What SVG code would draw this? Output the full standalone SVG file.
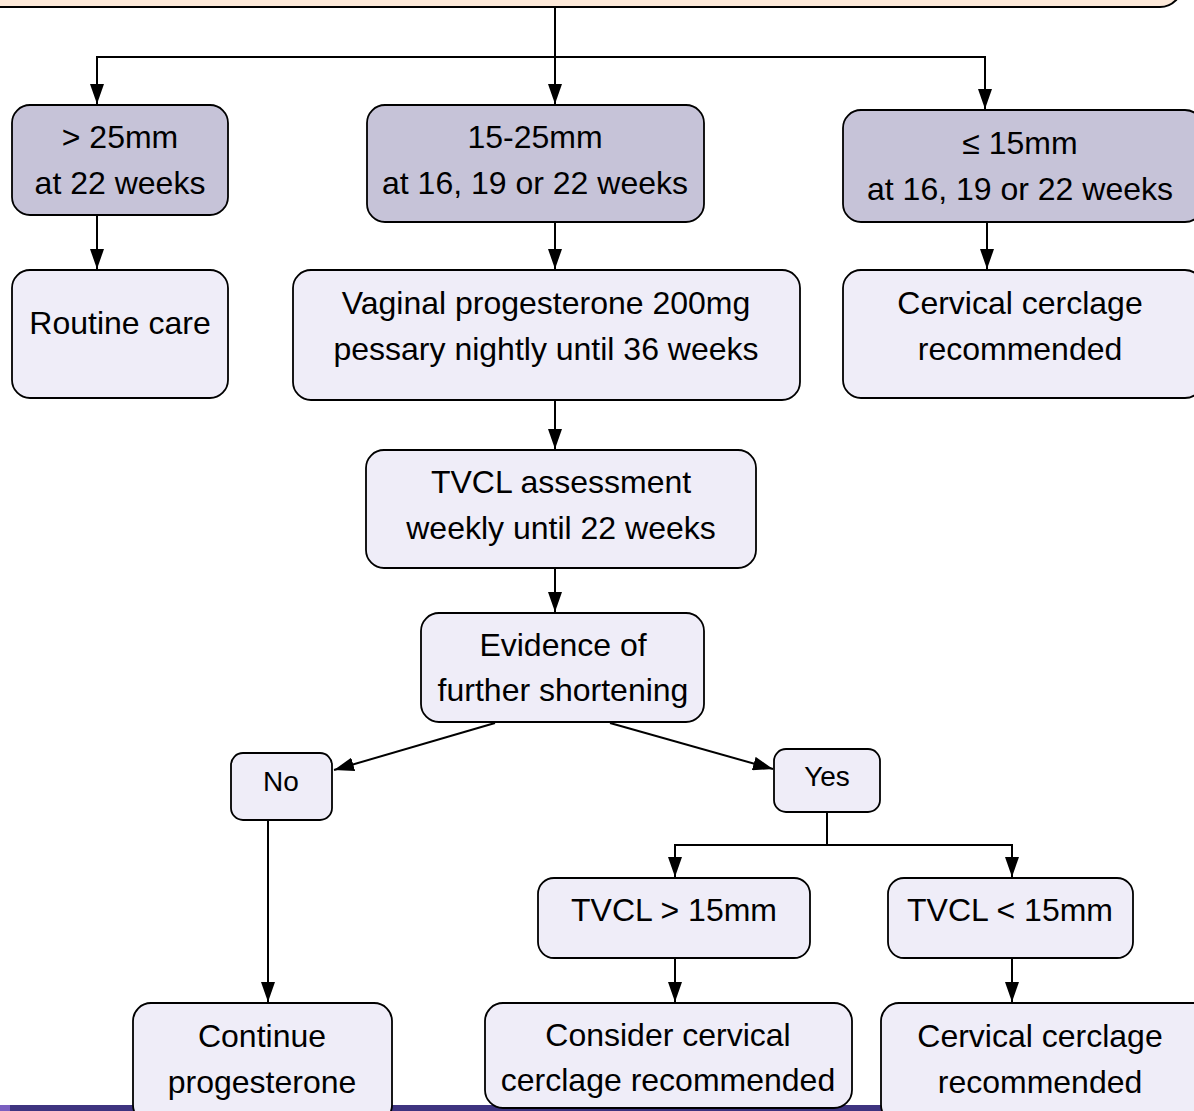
<svg xmlns="http://www.w3.org/2000/svg" width="1194" height="1111" viewBox="0 0 1194 1111">
<style>
.hdr{fill:#C6C3D8;stroke:#000;stroke-width:1.8}
.box{fill:#EFEDF8;stroke:#000;stroke-width:1.8}
.top{fill:#FDE9D9;stroke:#000;stroke-width:2}
text{font-family:"Liberation Sans",Arial,sans-serif;font-size:32px;fill:#000;text-anchor:middle}
.c{fill:none;stroke:#000;stroke-width:2}
</style>
<defs>
<marker id="ah" markerUnits="userSpaceOnUse" markerWidth="20" markerHeight="14" refX="20" refY="7" viewBox="0 0 20 14" orient="auto">
<path d="M0,0 L20,7 L0,14 Z" fill="#000"/>
</marker>
</defs>
<rect x="0" y="1105" width="1194" height="6" fill="#3E3480"/>
<rect x="0" y="1105" width="10" height="6" fill="#7A5FC0"/>
<g id="top-box"><rect class="top" x="-30" y="-40" width="1212" height="47" rx="22"/></g>
<g id="connectors">
<line class="c" x1="555" y1="8" x2="555" y2="104" marker-end="url(#ah)"/>
<polyline class="c" points="97,104 97,57 985,57 985,109"/>
<line class="c" x1="97" y1="57" x2="97" y2="104" marker-end="url(#ah)"/>
<line class="c" x1="985" y1="57" x2="985" y2="109" marker-end="url(#ah)"/>
<line class="c" x1="97" y1="215" x2="97" y2="269" marker-end="url(#ah)"/>
<line class="c" x1="555" y1="222" x2="555" y2="269" marker-end="url(#ah)"/>
<line class="c" x1="987" y1="222" x2="987" y2="269" marker-end="url(#ah)"/>
<line class="c" x1="555" y1="400" x2="555" y2="449" marker-end="url(#ah)"/>
<line class="c" x1="555" y1="568" x2="555" y2="612" marker-end="url(#ah)"/>
<line class="c" x1="495" y1="723" x2="334" y2="770" marker-end="url(#ah)"/>
<line class="c" x1="610" y1="723" x2="773" y2="769" marker-end="url(#ah)"/>
<line class="c" x1="268" y1="820" x2="268" y2="1002" marker-end="url(#ah)"/>
<line class="c" x1="827" y1="812" x2="827" y2="845"/>
<polyline class="c" points="675,877 675,845 1012,845 1012,877"/>
<line class="c" x1="675" y1="845" x2="675" y2="877" marker-end="url(#ah)"/>
<line class="c" x1="1012" y1="845" x2="1012" y2="877" marker-end="url(#ah)"/>
<line class="c" x1="675" y1="958" x2="675" y2="1002" marker-end="url(#ah)"/>
<line class="c" x1="1012" y1="958" x2="1012" y2="1002" marker-end="url(#ah)"/>
</g>
<g id="n-gt25"><rect class="hdr" x="12" y="105" width="216" height="110" rx="18"/><text x="120" y="148">&gt; 25mm</text><text x="120" y="194">at 22 weeks</text></g>
<g id="n-15-25"><rect class="hdr" x="367" y="105" width="337" height="117" rx="18"/><text x="535" y="148">15-25mm</text><text x="535" y="194">at 16, 19 or 22 weeks</text></g>
<g id="n-le15"><rect class="hdr" x="843" y="110" width="360" height="112" rx="18"/><text x="1020" y="154">≤ 15mm</text><text x="1020" y="200">at 16, 19 or 22 weeks</text></g>
<g id="n-routine"><rect class="box" x="12" y="270" width="216" height="128" rx="18"/><text x="120" y="334">Routine care</text></g>
<g id="n-vaginal"><rect class="box" x="293" y="270" width="507" height="130" rx="18"/><text x="546" y="314">Vaginal progesterone 200mg</text><text x="546" y="360">pessary nightly until 36 weeks</text></g>
<g id="n-cerclage1"><rect class="box" x="843" y="270" width="360" height="128" rx="18"/><text x="1020" y="314">Cervical cerclage</text><text x="1020" y="360">recommended</text></g>
<g id="n-tvcl"><rect class="box" x="366" y="450" width="390" height="118" rx="18"/><text x="561" y="493">TVCL assessment</text><text x="561" y="539">weekly until 22 weeks</text></g>
<g id="n-evidence"><rect class="box" x="421" y="613" width="283" height="109" rx="18"/><text x="563" y="656">Evidence of</text><text x="563" y="701">further shortening</text></g>
<g id="n-no"><rect class="box" x="231" y="753" width="101" height="67" rx="12"/><text x="281" y="791" style="font-size:28px">No</text></g>
<g id="n-yes"><rect class="box" x="774" y="749" width="106" height="63" rx="12"/><text x="827" y="786" style="font-size:28px">Yes</text></g>
<g id="n-tvcl-gt"><rect class="box" x="538" y="878" width="272" height="80" rx="16"/><text x="674" y="921">TVCL &gt; 15mm</text></g>
<g id="n-tvcl-lt"><rect class="box" x="888" y="878" width="245" height="80" rx="16"/><text x="1010" y="921">TVCL &lt; 15mm</text></g>
<g id="n-continue"><rect class="box" x="133" y="1003" width="259" height="120" rx="18"/><text x="262" y="1047">Continue</text><text x="262" y="1093">progesterone</text></g>
<g id="n-consider"><rect class="box" x="485" y="1003" width="367" height="105" rx="18"/><text x="668" y="1046">Consider cervical</text><text x="668" y="1091">cerclage recommended</text></g>
<g id="n-cerclage2"><rect class="box" x="881" y="1003" width="330" height="120" rx="18"/><text x="1040" y="1047">Cervical cerclage</text><text x="1040" y="1093">recommended</text></g>
</svg>
